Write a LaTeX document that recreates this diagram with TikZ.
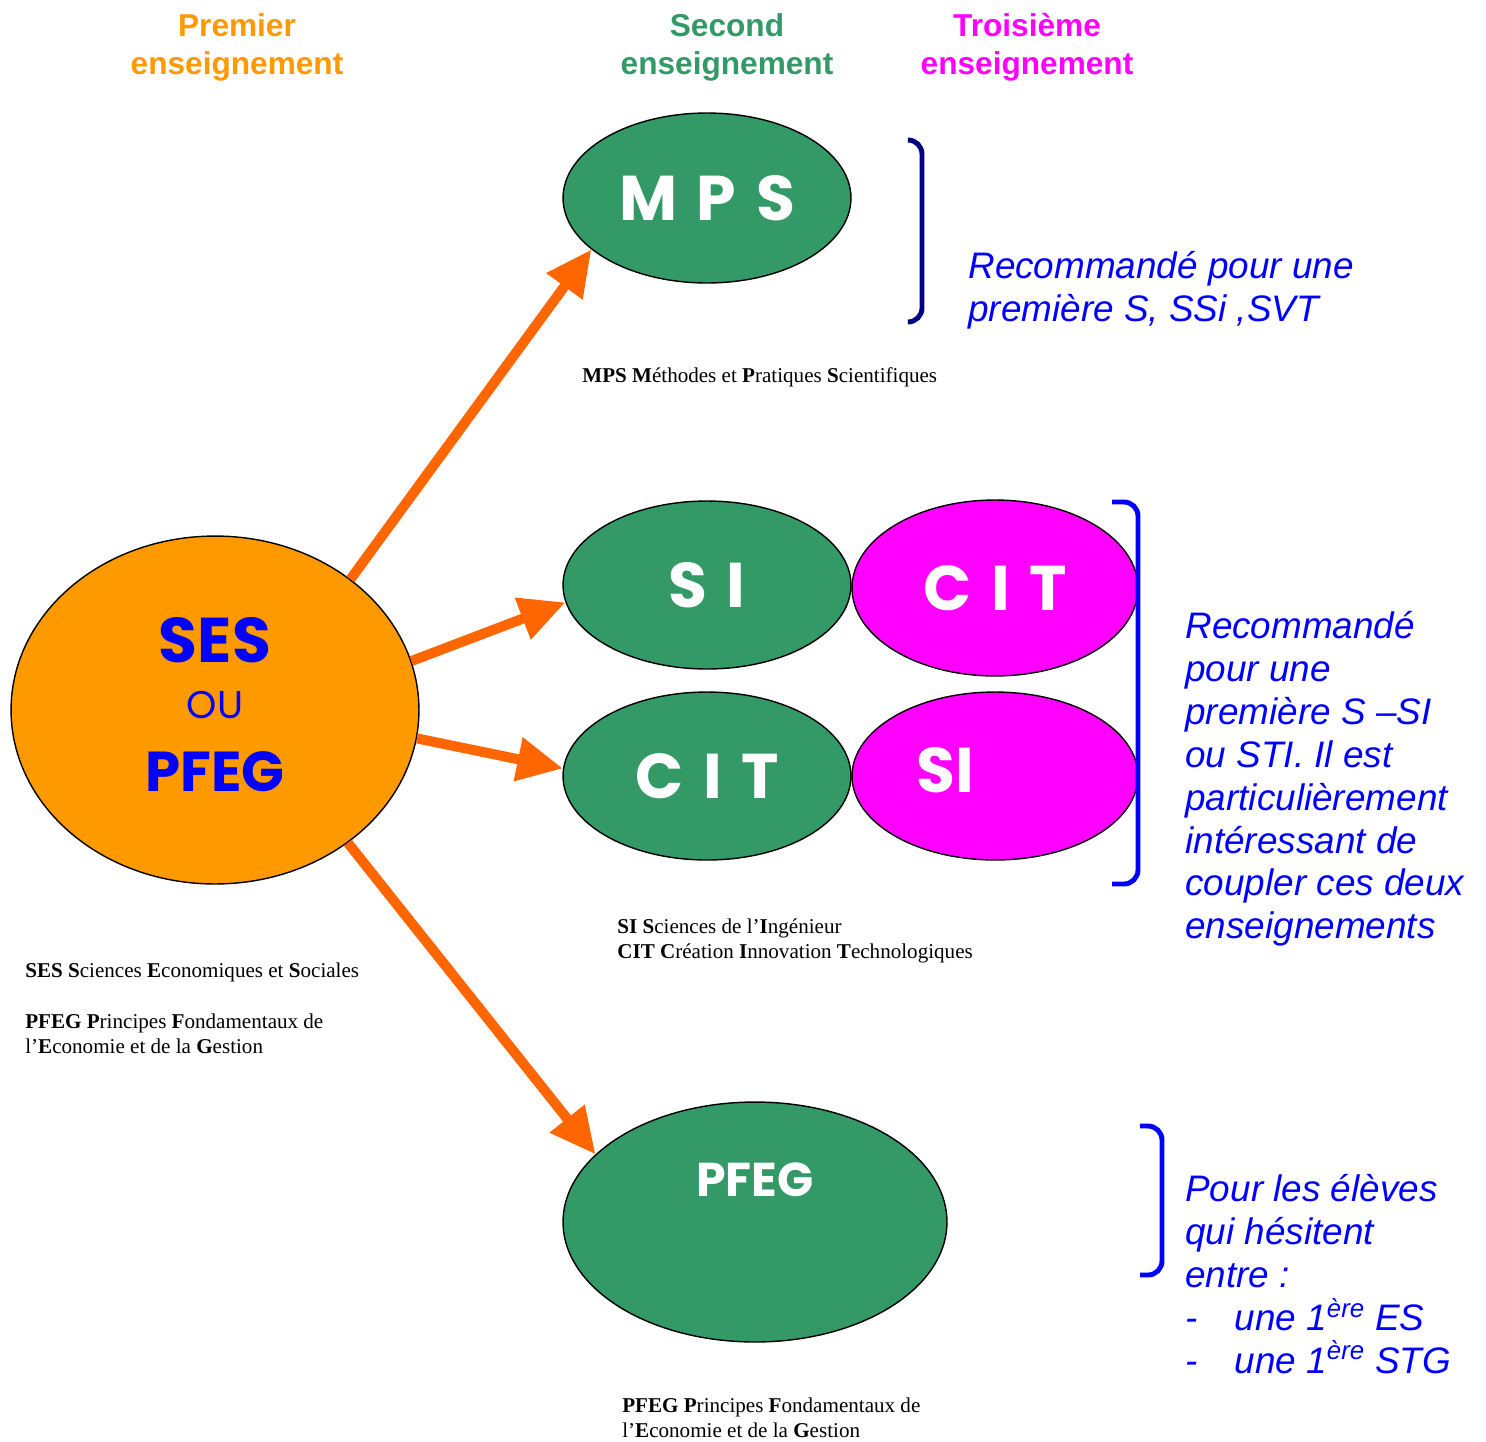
\documentclass[tikz,border=0pt]{standalone}
\usepackage{fontspec}
\setmainfont{Liberation Serif}
\newfontfamily\arialfont{Liberation Sans}
\newfontfamily\comicfont{Poppins}
\usepackage{tikz}
\usetikzlibrary{shapes.geometric,arrows.meta,positioning}
\definecolor{sesorange}{HTML}{FF9900}
\definecolor{ensgreen}{HTML}{339966}
\definecolor{ensmagenta}{HTML}{FF00FF}
\definecolor{arrorange}{HTML}{FF6600}
\definecolor{navy}{HTML}{000080}
\newcommand{\lsp}{\hspace{0.1em}}

\begin{document}
\begin{tikzpicture}[x=0.02cm,y=-0.02cm,
	head/.style={font=\arialfont\bfseries\fontsize{18}{21.5}\selectfont,align=center},
	ens/.style={ellipse,draw=black,line width=0.8pt,inner sep=0pt,text=white,font=\comicfont\bfseries\fontsize{36}{40}\selectfont},
	sestext/.style={text=blue,font=\comicfont\bfseries\fontsize{36}{40}\selectfont},
	arr/.style={arrorange,line width=5.7pt,-{Triangle[length=26pt,width=24pt]}},
	caption/.style={anchor=west,align=left,inner sep=0pt,font=\fontsize{12}{14.2}\selectfont},
	remark/.style={anchor=west,align=left,inner sep=0pt,text=blue,font=\arialfont\itshape\fontsize{21}{24.4}\selectfont},
	bracket/.style={line width=2.8pt,rounded corners=8pt}]
			\useasboundingbox (0,0) rectangle (1486,1441);
			\node[head,text=sesorange] (prem) at (237,47) {Premier\\enseignement};
			\node[head,text=ensgreen] (sec) at (727,47) {Second\\enseignement};
			\node[head,text=ensmagenta] (trois) at (1027,47) {Troisième\\enseignement};
			
			\node[ens,fill=sesorange,minimum width=8.16cm,minimum height=6.96cm] (ses) at (215,710) {};
			\node[sestext] (sestxt) at (215,640) {SES};
			\node[sestext,font=\comicfont\fontsize{22}{26}\selectfont] (outxt) at (215,705) {OU};
			\node[sestext,font=\comicfont\bfseries\fontsize{32}{36}\selectfont] (pfegtxt) at (215,772) {PFEG};
			
			\node[ens,fill=ensgreen,minimum width=5.76cm,minimum height=3.4cm] (mps) at (707,198) {M\lsp{} P\lsp{} S};
			\node[ens,fill=ensgreen,minimum width=5.76cm,minimum height=3.36cm] (si) at (707,585) {S\lsp{} I};
			\node[ens,fill=ensmagenta,minimum width=5.72cm,minimum height=3.52cm] (cit3) at (995,588) {C\lsp{} I\lsp{} T};
			\node[ens,fill=ensgreen,minimum width=5.76cm,minimum height=3.36cm] (cit) at (707,776) {C\lsp{} I\lsp{} T};
			\node[ens,fill=ensmagenta,minimum width=5.72cm,minimum height=3.36cm] (si3) at (995,776) {};
			\node[ens,draw=none,fill=none] (si3txt) at (945,770) {SI};
			\node[ens,fill=ensgreen,minimum width=7.68cm,minimum height=4.8cm] (pfeg) at (755,1222) {};
			\node[ens,draw=none,fill=none,font=\comicfont\bfseries\fontsize{27}{30}\selectfont] (pfeg2txt) at (755,1180) {PFEG};
			
			\draw[arr] (ses.44) -- (mps.204);
			\draw[arr] (ses.14) -- (si.187);
			\draw[arr] (ses.-8) -- (cit.177);
			\draw[arr] (ses.-45) -- (pfeg.157);
			
			\draw[bracket,navy] (908,140) -| (922,231) |- (908,322);
			\draw[bracket,blue] (1112,502) -| (1138,692) |- (1112,884);
			\draw[bracket,blue] (1140,1126) -| (1162,1200) |- (1140,1275);
			
			\node[remark] (mpsrem) at (968,290) {Recommandé pour une\\première S, SSi ,SVT};
			\node[remark] (sirem) at (1185,779) {Recommandé\\pour une\\première S –SI\\ou STI. Il est\\particulièrement\\intéressant de\\coupler ces deux\\enseignements};
			\node[remark] (pfegrem) at (1185,1274) {Pour les élèves\\qui hésitent\\entre :\\\makebox[28pt][l]{-}une 1\textsuperscript{ère} ES\\\makebox[28pt][l]{-}une 1\textsuperscript{ère} STG};
			
			\node[caption] (mpscap) at (582,377) {\textbf{MPS M}éthodes et \textbf{P}ratiques \textbf{S}cientifiques};
			\node[caption] (sescap) at (25,972) {\textbf{SES S}ciences \textbf{E}conomiques et \textbf{S}ociales};
			\node[caption] (pfegcap) at (25,1033.5) {\textbf{PFEG P}rincipes \textbf{F}ondamentaux de\\l’\textbf{E}conomie et de la \textbf{G}estion};
			\node[caption] (sicap) at (617,941) {\textbf{SI S}ciences de l’\textbf{I}ngénieur\\\textbf{CIT C}réation \textbf{I}nnovation \textbf{T}echnologiques};
			\node[caption] (pfegcap2) at (622,1418) {\textbf{PFEG P}rincipes \textbf{F}ondamentaux de\\l’\textbf{E}conomie et de la \textbf{G}estion};
\end{tikzpicture}
\end{document}
